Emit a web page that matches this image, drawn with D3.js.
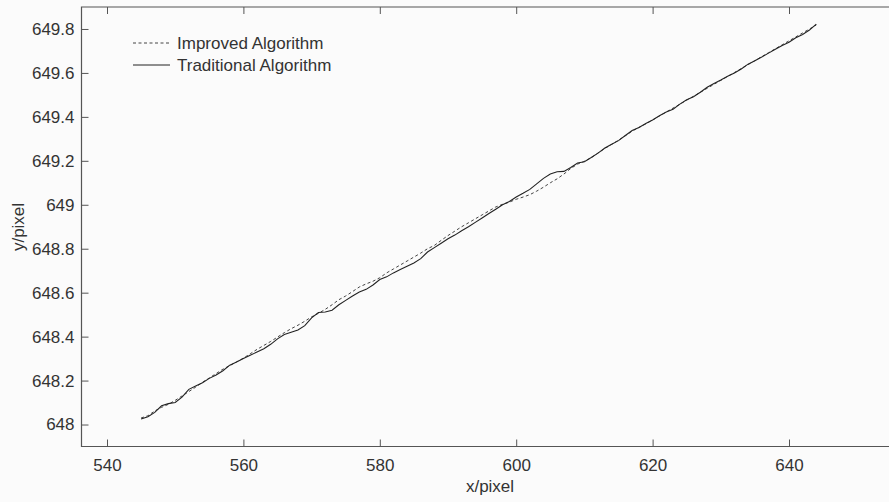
<!DOCTYPE html>
<html>
<head>
<meta charset="utf-8">
<script src="https://cdn.jsdelivr.net/npm/d3@7"></script>
<style>
  html, body { margin: 0; padding: 0; background: #fbfbfb; }
  svg { display: block; font-family: "Liberation Sans", Arial, sans-serif; }
</style>
</head>
<body>
<svg width="889" height="502"></svg>
<script>
// sample positions along x (pixel)
const xValues = [
  545, 546, 547, 548, 549, 550, 551, 552, 553, 554, 555, 556, 557, 558, 559,
  560, 561, 562, 563, 564, 565, 566, 567, 568, 569, 570, 571, 572, 573, 574,
  575, 576, 577, 578, 579, 580, 581, 582, 583, 584, 585, 586, 587, 588, 589,
  590, 591, 592, 593, 594, 595, 596, 597, 598, 599, 600, 601, 602, 603, 604,
  605, 606, 607, 608, 609, 610, 611, 612, 613, 614, 615, 616, 617, 618, 619,
  620, 621, 622, 623, 624, 625, 626, 627, 628, 629, 630, 631, 632, 633, 634,
  635, 636, 637, 638, 639, 640, 641, 642, 643, 644
];
// traditional algorithm (solid)
const traditional = [
  648.025, 648.035, 648.055, 648.085, 648.095, 648.100, 648.125, 648.160, 648.175, 648.190,
  648.210, 648.225, 648.245, 648.270, 648.285, 648.300, 648.315, 648.330, 648.345, 648.365,
  648.390, 648.410, 648.420, 648.430, 648.450, 648.485, 648.510, 648.512, 648.520, 648.545,
  648.565, 648.585, 648.603, 648.615, 648.635, 648.660, 648.672, 648.690, 648.705, 648.720,
  648.735, 648.755, 648.785, 648.805, 648.825, 648.845, 648.862, 648.882, 648.900, 648.920,
  648.940, 648.960, 648.980, 649.000, 649.015, 649.035, 649.052, 649.070, 649.095, 649.120,
  649.140, 649.150, 649.152, 649.170, 649.190, 649.196, 649.215, 649.235, 649.258, 649.275,
  649.292, 649.315, 649.338, 649.352, 649.370, 649.386, 649.405, 649.422, 649.435, 649.458,
  649.478, 649.492, 649.512, 649.535, 649.552, 649.568, 649.585, 649.600, 649.618, 649.640,
  649.655, 649.672, 649.690, 649.708, 649.725, 649.740, 649.760, 649.775, 649.795, 649.822
];
// improved algorithm (dashed)
const improved = [
  648.030, 648.040, 648.062, 648.078, 648.092, 648.110, 648.130, 648.150, 648.170, 648.192,
  648.212, 648.232, 648.252, 648.268, 648.285, 648.302, 648.322, 648.342, 648.360, 648.378,
  648.398, 648.418, 648.436, 648.452, 648.470, 648.490, 648.506, 648.524, 648.545, 648.568,
  648.585, 648.605, 648.626, 648.640, 648.652, 648.668, 648.690, 648.708, 648.726, 648.744,
  648.762, 648.780, 648.800, 648.815, 648.838, 648.860, 648.880, 648.900, 648.918, 648.936,
  648.954, 648.972, 648.990, 649.002, 649.012, 649.025, 649.035, 649.046, 649.062, 649.080,
  649.100, 649.118, 649.140, 649.165, 649.185, 649.198, 649.214, 649.236, 649.256, 649.275,
  649.294, 649.314, 649.335, 649.352, 649.368, 649.386, 649.404, 649.422, 649.440, 649.458,
  649.476, 649.494, 649.512, 649.530, 649.548, 649.566, 649.584, 649.602, 649.620, 649.638,
  649.656, 649.674, 649.692, 649.710, 649.728, 649.746, 649.764, 649.782, 649.800, 649.818
];
const xTicks = [540, 560, 580, 600, 620, 640];
const yTicks = [648, 648.2, 648.4, 648.6, 648.8, 649, 649.2, 649.4, 649.6, 649.8];
const legendLabels = ["Improved Algorithm", "Traditional Algorithm"];

const svg = d3.select("svg");
const plotLeft = 81.5, plotTop = 7, plotBottom = 446.5;
const fontSize = 17;

// x axis runs past the right edge of the picture (cropped box)
const xScale = d3.scaleLinear().domain([540, 640]).range([107, 789]);
const yScale = d3.scaleLinear().domain([647.9, 649.9]).range([plotBottom, plotTop]);

const axisColor = "#555";
const textColor = "#333";

// box lines
svg.append("path")
  .attr("fill", "none")
  .attr("stroke", axisColor)
  .attr("stroke-width", 1.2)
  .attr("d", `M900,${plotTop}H${plotLeft}V${plotBottom}H900`);

// bottom axis (inward ticks)
const xAxis = svg.append("g")
  .attr("transform", `translate(0,${plotBottom})`)
  .call(d3.axisBottom(xScale).tickValues(xTicks).tickSizeInner(-7).tickSizeOuter(0).tickPadding(12).tickFormat(d3.format("d")));
xAxis.select(".domain").remove();
xAxis.selectAll("line").attr("stroke", axisColor);
xAxis.selectAll("text").attr("font-size", fontSize).attr("fill", textColor).attr("font-family", "Liberation Sans, Arial, sans-serif");

// top ticks
const xTop = svg.append("g")
  .attr("transform", `translate(0,${plotTop})`)
  .call(d3.axisTop(xScale).tickValues(xTicks).tickSizeInner(-7).tickSizeOuter(0).tickFormat(""));
xTop.select(".domain").remove();
xTop.selectAll("line").attr("stroke", axisColor);

// left axis (inward ticks)
const yAxis = svg.append("g")
  .attr("transform", `translate(${plotLeft},0)`)
  .call(d3.axisLeft(yScale).tickValues(yTicks).tickSizeInner(-7).tickSizeOuter(0).tickPadding(7).tickFormat(d => d3.format(".1f")(d).replace(/\.0$/, "")));
yAxis.select(".domain").remove();
yAxis.selectAll("line").attr("stroke", axisColor);
yAxis.selectAll("text").attr("font-size", fontSize).attr("fill", textColor).attr("font-family", "Liberation Sans, Arial, sans-serif");

// axis titles
svg.append("text")
  .attr("x", 490).attr("y", 492)
  .attr("text-anchor", "middle")
  .attr("font-size", fontSize).attr("fill", textColor)
  .text("x/pixel");
svg.append("text")
  .attr("transform", "translate(24,227) rotate(-90)")
  .attr("text-anchor", "middle")
  .attr("font-size", fontSize).attr("fill", textColor)
  .text("y/pixel");

// lines
const line = d3.line()
  .x((d, i) => xScale(xValues[i]))
  .y(d => yScale(d));

svg.append("path")
  .datum(improved)
  .attr("fill", "none")
  .attr("stroke", "#444")
  .attr("stroke-width", 1)
  .attr("stroke-dasharray", "3,2.5")
  .attr("d", line);

svg.append("path")
  .datum(traditional)
  .attr("fill", "none")
  .attr("stroke", "#222")
  .attr("stroke-width", 1.1)
  .attr("d", line);

// legend
const legend = svg.append("g");
legendLabels.forEach((label, i) => {
  const y = 43 + i * 22;
  legend.append("line")
    .attr("x1", 133).attr("x2", 170)
    .attr("y1", y).attr("y2", y)
    .attr("stroke", i === 0 ? "#444" : "#222")
    .attr("stroke-width", 1)
    .attr("stroke-dasharray", i === 0 ? "3,2.5" : null);
  legend.append("text")
    .attr("x", 177).attr("y", y)
    .attr("dy", "0.35em")
    .attr("font-size", fontSize).attr("fill", textColor)
    .text(label);
});
</script>
</body>
</html>
